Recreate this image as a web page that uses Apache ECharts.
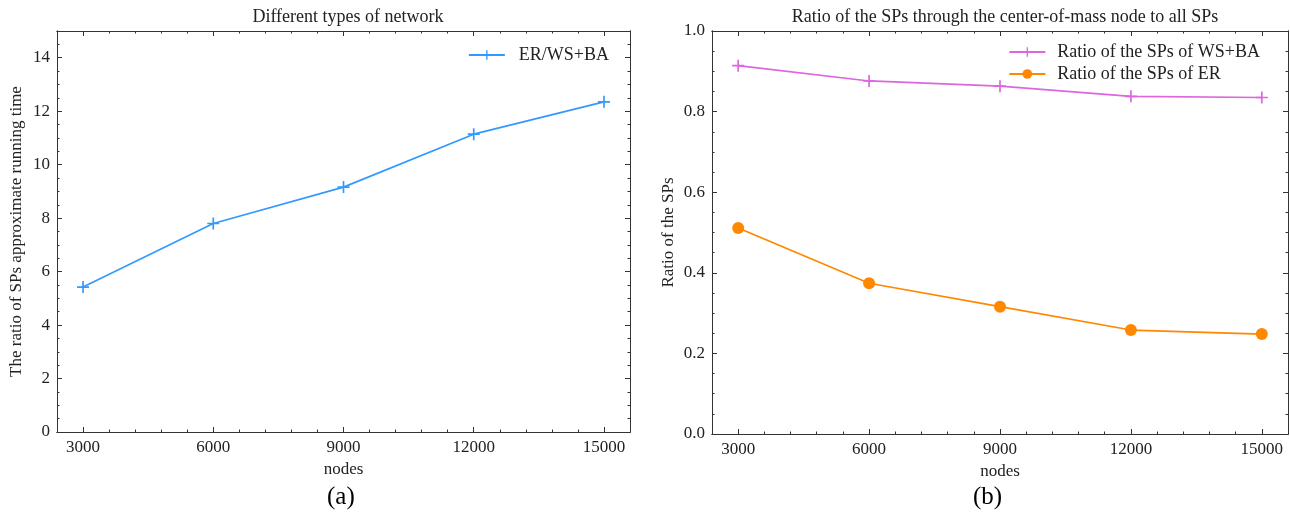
<!DOCTYPE html>
<html>
<head>
<meta charset="utf-8">
<script src="https://cdn.jsdelivr.net/npm/echarts@6/dist/echarts.min.js"></script>
<style>
html,body{margin:0;padding:0;background:#fff;}
#chart{width:1290px;height:515px;}
</style>
</head>
<body>
<div id="chart"></div>
<script>
// ---- data ----
var nodes = [3000, 6000, 9000, 12000, 15000];
var runtimeRatio = [5.42, 7.80, 9.16, 11.14, 12.35];
var wsbaRatio = [0.914, 0.876, 0.863, 0.838, 0.835];
var erRatio = [0.511, 0.374, 0.316, 0.258, 0.248];
var xTicks = [3000, 6000, 9000, 12000, 15000];
var leftYTicks = [0, 2, 4, 6, 8, 10, 12, 14];
var rightYTicks = [0, 0.2, 0.4, 0.6, 0.8, 1.0];

var titleA = 'Different types of network';
var titleB = 'Ratio of the SPs through the center-of-mass node to all SPs';
var nameA = 'ER/WS+BA';
var nameB1 = 'Ratio of the SPs of WS+BA';
var nameB2 = 'Ratio of the SPs of ER';

// ---- helpers ----
var FONT = '"Liberation Serif", "Times New Roman", serif';
var TXT = '#222';
var LINE = '#333';

function minorList(lo, hi, step, majors) {
  var out = [];
  var n = Math.round((hi - lo) / step);
  for (var i = 0; i <= n; i++) {
    var v = +(lo + i * step).toFixed(6);
    var isMajor = majors.some(function (m) { return Math.abs(m - v) < 1e-9; });
    if (!isMajor) out.push(v);
  }
  return out;
}
function pairs(xs, ys) { return xs.map(function (x, i) { return [x, ys[i]]; }); }

function axis(grid, pos, min, max, ticks, len, withLabel, extra) {
  var a = {
    type: 'value', gridIndex: grid, position: pos, min: min, max: max,
    splitLine: { show: false },
    axisLine: { show: true, onZero: false, lineStyle: { color: LINE, width: 1 } },
    axisTick: { show: true, inside: true, length: len, customValues: ticks, lineStyle: { color: LINE, width: 1 } },
    axisLabel: withLabel ? { show: true, customValues: ticks, color: TXT, fontFamily: FONT, fontSize: 17, margin: 7,
      formatter: function (v) { return String(v); } } : { show: false }
  };
  if (extra) for (var k in extra) a[k] = extra[k];
  return a;
}

var xMin = 2400, xMax = 15600;
var xMinor = minorList(xMin, xMax, 600, xTicks);
var lyMinor = minorList(0, 15, 0.5, leftYTicks);
var ryMinor = minorList(0, 1, 0.05, rightYTicks);

var xAxes = [], yAxes = [];
[0, 1].forEach(function (g) {
  xAxes.push(axis(g, 'bottom', xMin, xMax, xTicks, 5, true, {
    name: 'nodes', nameLocation: 'middle', nameGap: 28,
    nameTextStyle: { color: TXT, fontFamily: FONT, fontSize: 17 }
  }));
  xAxes.push(axis(g, 'bottom', xMin, xMax, xMinor, 2.5, false));
  xAxes.push(axis(g, 'top', xMin, xMax, xTicks, 5, false));
  xAxes.push(axis(g, 'top', xMin, xMax, xMinor, 2.5, false));
});
// left chart y
yAxes.push(axis(0, 'left', 0, 15, leftYTicks, 5, true, {
  name: 'The ratio of SPs approximate running time', nameLocation: 'middle', nameGap: 32,
  nameTextStyle: { color: TXT, fontFamily: FONT, fontSize: 17 }
}));
yAxes.push(axis(0, 'left', 0, 15, lyMinor, 2.5, false));
yAxes.push(axis(0, 'right', 0, 15, leftYTicks, 5, false));
yAxes.push(axis(0, 'right', 0, 15, lyMinor, 2.5, false));
// right chart y
var ry = axis(1, 'left', 0, 1, rightYTicks, 5, true, {
  name: 'Ratio of the SPs', nameLocation: 'middle', nameGap: 35,
  nameTextStyle: { color: TXT, fontFamily: FONT, fontSize: 17 }
});
ry.axisLabel.formatter = function (v) { return v.toFixed(1); };
yAxes.push(ry);
yAxes.push(axis(1, 'left', 0, 1, ryMinor, 2.5, false));
yAxes.push(axis(1, 'right', 0, 1, rightYTicks, 5, false));
yAxes.push(axis(1, 'right', 0, 1, ryMinor, 2.5, false));

var PLUS = 'path://M4.3,0 L5.7,0 L5.7,4.3 L10,4.3 L10,5.7 L5.7,5.7 L5.7,10 L4.3,10 L4.3,5.7 L0,5.7 L0,4.3 L4.3,4.3 Z';

var option = {
  animation: false,
  backgroundColor: '#fff',
  title: [
    { text: titleA, left: 343, top: 3, textAlign: 'center',
      textStyle: { fontFamily: FONT, fontWeight: 'normal', fontSize: 18, color: TXT } },
    { text: titleB, left: 1000, top: 3, textAlign: 'center',
      textStyle: { fontFamily: FONT, fontWeight: 'normal', fontSize: 18, color: TXT } }
  ],
  grid: [
    { left: 57, top: 31, width: 573, height: 401 },
    { left: 712, top: 31, width: 576, height: 403 }
  ],
  xAxis: xAxes,
  yAxis: yAxes,
  legend: [
    { data: [nameA], right: 676, top: 41, itemWidth: 36, itemHeight: 12,
      textStyle: { fontFamily: FONT, fontSize: 18, color: TXT, padding: [0, 0, 0, 9] } },
    { data: [nameB1, nameB2], orient: 'vertical', right: 25, top: 38, itemGap: 4,
      itemWidth: 36, itemHeight: 12,
      textStyle: { fontFamily: FONT, fontSize: 18, color: TXT, padding: [0, 0, 0, 7] } }
  ],
  series: [
    { name: nameA, type: 'line', xAxisIndex: 0, yAxisIndex: 0,
      data: pairs(nodes, runtimeRatio),
      symbol: PLUS, symbolSize: 12,
      lineStyle: { color: '#3399ff', width: 1.7 },
      itemStyle: { color: '#3399ff' } },
    { name: nameB1, type: 'line', xAxisIndex: 4, yAxisIndex: 4,
      data: pairs(nodes, wsbaRatio),
      symbol: PLUS, symbolSize: 12,
      lineStyle: { color: '#dd66dd', width: 1.7 },
      itemStyle: { color: '#dd66dd' } },
    { name: nameB2, type: 'line', xAxisIndex: 4, yAxisIndex: 4,
      data: pairs(nodes, erRatio),
      symbol: 'circle', symbolSize: 12,
      lineStyle: { color: '#ff8800', width: 1.7 },
      itemStyle: { color: '#ff8800' } }
  ],
  graphic: [
    { type: 'text', left: 327, top: 485, style: { text: '(a)', font: '25px ' + FONT, fill: '#000' } },
    { type: 'text', left: 973, top: 485, style: { text: '(b)', font: '25px ' + FONT, fill: '#000' } }
  ]
};

var chart = echarts.init(document.getElementById('chart'), null, { renderer: 'canvas' });
chart.setOption(option);
</script>
</body>
</html>
